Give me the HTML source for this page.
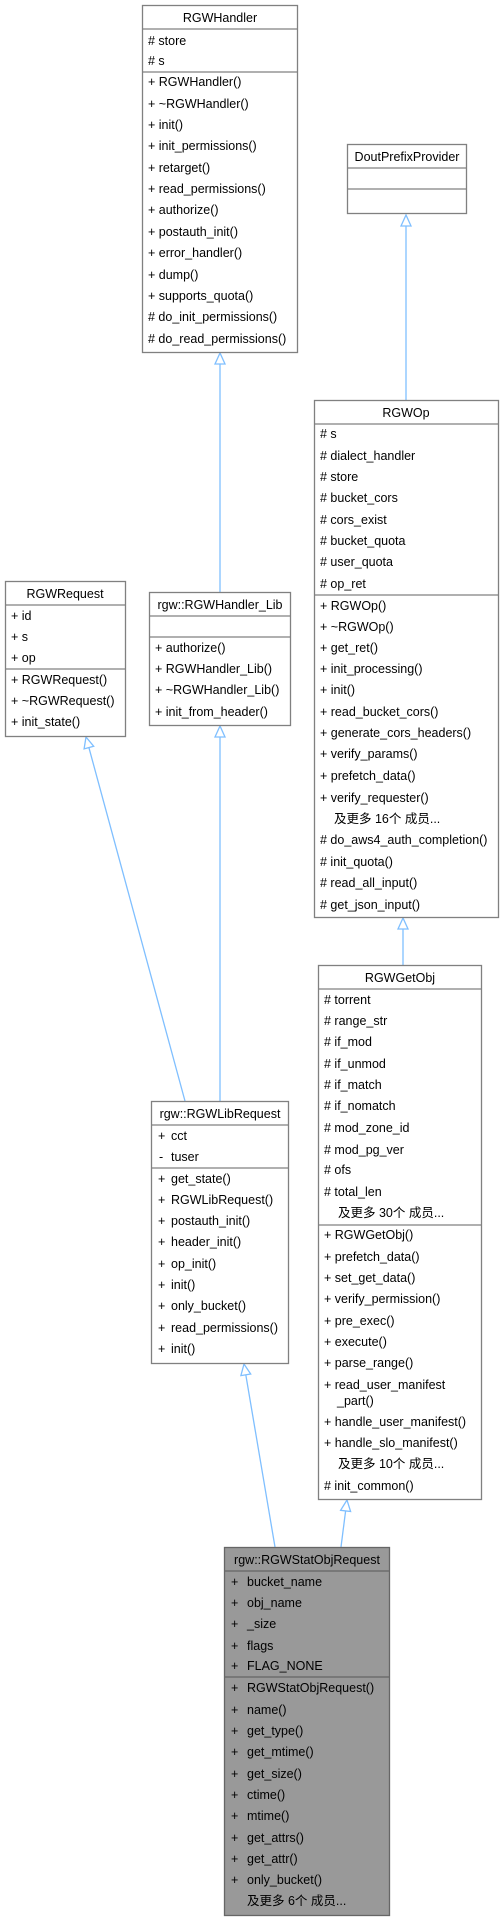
<!DOCTYPE html>
<html><head><meta charset="utf-8"><style>
html,body{margin:0;padding:0;background:#fff;}
svg{display:block;}
text{font-family:"Liberation Sans","Noto Sans CJK SC",sans-serif;font-size:12.5px;fill:#000;}
.b{fill:#fff;stroke:#808080;stroke-width:1.3;}
.g{fill:#999;stroke:#666;stroke-width:1.3;}
.s{stroke:#808080;stroke-width:1.3;}
.a{stroke:#7fbfff;stroke-width:1.3;fill:none;}
.h{stroke:#7fbfff;stroke-width:1.3;fill:#fff;}
</style></head><body>
<svg width="504" height="1920" viewBox="0 0 504 1920" xmlns="http://www.w3.org/2000/svg">
<!-- connectors -->
<line class="a" x1="220" y1="363" x2="220" y2="592"/>
<polygon class="h" points="220,353 215,364 225,364"/>
<line class="a" x1="406" y1="225" x2="406" y2="400"/>
<polygon class="h" points="406,215 401,226 411,226"/>
<line class="a" x1="220" y1="736" x2="220" y2="1101"/>
<polygon class="h" points="220,726 215,737 225,737"/>
<line class="a" x1="88.9" y1="747.6" x2="185" y2="1101"/>
<polygon class="h" points="86,737 84.1,748.9 93.7,746.3"/>
<line class="a" x1="403" y1="928" x2="403" y2="965"/>
<polygon class="h" points="403,918 398,929 408,929"/>
<line class="a" x1="245.8" y1="1374.8" x2="275" y2="1547"/>
<polygon class="h" points="244,1364 240.9,1375.6 250.7,1374"/>
<line class="a" x1="345.6" y1="1510.9" x2="341" y2="1547"/>
<polygon class="h" points="347,1500 340.6,1510.3 350.6,1511.5"/>

<!-- RGWHandler -->
<rect class="b" x="142.5" y="5.5" width="155" height="347"/>
<line class="s" x1="142.5" y1="29" x2="297.5" y2="29"/>
<line class="s" x1="142.5" y1="72" x2="297.5" y2="72"/>
<text x="220" y="22" text-anchor="middle">RGWHandler</text>
<g>
<text x="148" y="45"># store</text>
<text x="148" y="65"># s</text>
<text x="148" y="86">+ RGWHandler()</text>
<text x="148" y="108">+ ~RGWHandler()</text>
<text x="148" y="129">+ init()</text>
<text x="148" y="150">+ init_permissions()</text>
<text x="148" y="172">+ retarget()</text>
<text x="148" y="193">+ read_permissions()</text>
<text x="148" y="214">+ authorize()</text>
<text x="148" y="236">+ postauth_init()</text>
<text x="148" y="257">+ error_handler()</text>
<text x="148" y="279">+ dump()</text>
<text x="148" y="300">+ supports_quota()</text>
<text x="148" y="321"># do_init_permissions()</text>
<text x="148" y="343"># do_read_permissions()</text>
</g>

<!-- DoutPrefixProvider -->
<rect class="b" x="347.5" y="144.5" width="119" height="69"/>
<line class="s" x1="347.5" y1="168" x2="466.5" y2="168"/>
<line class="s" x1="347.5" y1="189" x2="466.5" y2="189"/>
<text x="407" y="161" text-anchor="middle">DoutPrefixProvider</text>

<!-- RGWOp -->
<rect class="b" x="314.5" y="400.5" width="184" height="517"/>
<line class="s" x1="314.5" y1="424" x2="498.5" y2="424"/>
<line class="s" x1="314.5" y1="595" x2="498.5" y2="595"/>
<text x="406" y="417" text-anchor="middle">RGWOp</text>
<g>
<text x="320" y="438"># s</text>
<text x="320" y="460"># dialect_handler</text>
<text x="320" y="481"># store</text>
<text x="320" y="502"># bucket_cors</text>
<text x="320" y="524"># cors_exist</text>
<text x="320" y="545"># bucket_quota</text>
<text x="320" y="566"># user_quota</text>
<text x="320" y="588"># op_ret</text>
<text x="320" y="610">+ RGWOp()</text>
<text x="320" y="631">+ ~RGWOp()</text>
<text x="320" y="652">+ get_ret()</text>
<text x="320" y="673">+ init_processing()</text>
<text x="320" y="694">+ init()</text>
<text x="320" y="716">+ read_bucket_cors()</text>
<text x="320" y="737">+ generate_cors_headers()</text>
<text x="320" y="758">+ verify_params()</text>
<text x="320" y="780">+ prefetch_data()</text>
<text x="320" y="802">+ verify_requester()</text>
<text x="334" y="823">及更多 16个 成员...</text>
<text x="320" y="844"># do_aws4_auth_completion()</text>
<text x="320" y="866"># init_quota()</text>
<text x="320" y="887"># read_all_input()</text>
<text x="320" y="909"># get_json_input()</text>
</g>

<!-- RGWRequest -->
<rect class="b" x="5.5" y="581.5" width="120" height="155"/>
<line class="s" x1="5.5" y1="605" x2="125.5" y2="605"/>
<line class="s" x1="5.5" y1="669" x2="125.5" y2="669"/>
<text x="65" y="598" text-anchor="middle">RGWRequest</text>
<text x="11" y="620">+ id</text>
<text x="11" y="641">+ s</text>
<text x="11" y="662">+ op</text>
<text x="11" y="684">+ RGWRequest()</text>
<text x="11" y="705">+ ~RGWRequest()</text>
<text x="11" y="726">+ init_state()</text>

<!-- RGWHandler_Lib -->
<rect class="b" x="149.5" y="592.5" width="141" height="133"/>
<line class="s" x1="149.5" y1="616" x2="290.5" y2="616"/>
<line class="s" x1="149.5" y1="637" x2="290.5" y2="637"/>
<text x="220" y="609" text-anchor="middle">rgw::RGWHandler_Lib</text>
<text x="155" y="652">+ authorize()</text>
<text x="155" y="673">+ RGWHandler_Lib()</text>
<text x="155" y="694">+ ~RGWHandler_Lib()</text>
<text x="155" y="716">+ init_from_header()</text>

<!-- RGWGetObj -->
<rect class="b" x="318.5" y="965.5" width="163" height="534"/>
<line class="s" x1="318.5" y1="989" x2="481.5" y2="989"/>
<line class="s" x1="318.5" y1="1225" x2="481.5" y2="1225"/>
<text x="400" y="982" text-anchor="middle">RGWGetObj</text>
<g>
<text x="324" y="1004"># torrent</text>
<text x="324" y="1025"># range_str</text>
<text x="324" y="1046"># if_mod</text>
<text x="324" y="1068"># if_unmod</text>
<text x="324" y="1089"># if_match</text>
<text x="324" y="1110"># if_nomatch</text>
<text x="324" y="1132"># mod_zone_id</text>
<text x="324" y="1154"># mod_pg_ver</text>
<text x="324" y="1174"># ofs</text>
<text x="324" y="1196"># total_len</text>
<text x="338" y="1217">及更多 30个 成员...</text>
<text x="324" y="1239">+ RGWGetObj()</text>
<text x="324" y="1261">+ prefetch_data()</text>
<text x="324" y="1282">+ set_get_data()</text>
<text x="324" y="1303">+ verify_permission()</text>
<text x="324" y="1325">+ pre_exec()</text>
<text x="324" y="1346">+ execute()</text>
<text x="324" y="1367">+ parse_range()</text>
<text x="324" y="1389">+ read_user_manifest</text>
<text x="337" y="1405">_part()</text>
<text x="324" y="1426">+ handle_user_manifest()</text>
<text x="324" y="1447">+ handle_slo_manifest()</text>
<text x="338" y="1468">及更多 10个 成员...</text>
<text x="324" y="1490"># init_common()</text>
</g>

<!-- RGWLibRequest -->
<rect class="b" x="151.5" y="1101.5" width="137" height="262"/>
<line class="s" x1="151.5" y1="1125" x2="288.5" y2="1125"/>
<line class="s" x1="151.5" y1="1168" x2="288.5" y2="1168"/>
<text x="220" y="1118" text-anchor="middle">rgw::RGWLibRequest</text>
<g>
<text x="158" y="1140">+</text><text x="171" y="1140">cct</text>
<text x="159" y="1161">-</text><text x="171" y="1161">tuser</text>
<text x="158" y="1183">+</text><text x="171" y="1183">get_state()</text>
<text x="158" y="1204">+</text><text x="171" y="1204">RGWLibRequest()</text>
<text x="158" y="1225">+</text><text x="171" y="1225">postauth_init()</text>
<text x="158" y="1246">+</text><text x="171" y="1246">header_init()</text>
<text x="158" y="1268">+</text><text x="171" y="1268">op_init()</text>
<text x="158" y="1289">+</text><text x="171" y="1289">init()</text>
<text x="158" y="1310">+</text><text x="171" y="1310">only_bucket()</text>
<text x="158" y="1332">+</text><text x="171" y="1332">read_permissions()</text>
<text x="158" y="1353">+</text><text x="171" y="1353">init()</text>
</g>

<!-- RGWStatObjRequest -->
<rect class="g" x="224.5" y="1547.5" width="165" height="368"/>
<line x1="224.5" y1="1571" x2="389.5" y2="1571" stroke="#666" stroke-width="1.3"/>
<line x1="224.5" y1="1677" x2="389.5" y2="1677" stroke="#666" stroke-width="1.3"/>
<text x="307" y="1564" text-anchor="middle">rgw::RGWStatObjRequest</text>
<g>
<text x="231" y="1586">+</text><text x="247" y="1586">bucket_name</text>
<text x="231" y="1607">+</text><text x="247" y="1607">obj_name</text>
<text x="231" y="1628">+</text><text x="247" y="1628">_size</text>
<text x="231" y="1650">+</text><text x="247" y="1650">flags</text>
<text x="231" y="1670">+</text><text x="247" y="1670">FLAG_NONE</text>
<text x="231" y="1692">+</text><text x="247" y="1692">RGWStatObjRequest()</text>
<text x="231" y="1714">+</text><text x="247" y="1714">name()</text>
<text x="231" y="1735">+</text><text x="247" y="1735">get_type()</text>
<text x="231" y="1756">+</text><text x="247" y="1756">get_mtime()</text>
<text x="231" y="1778">+</text><text x="247" y="1778">get_size()</text>
<text x="231" y="1799">+</text><text x="247" y="1799">ctime()</text>
<text x="231" y="1820">+</text><text x="247" y="1820">mtime()</text>
<text x="231" y="1842">+</text><text x="247" y="1842">get_attrs()</text>
<text x="231" y="1863">+</text><text x="247" y="1863">get_attr()</text>
<text x="231" y="1884">+</text><text x="247" y="1884">only_bucket()</text>
<text x="247" y="1905">及更多 6个 成员...</text>
</g>
</svg>
</body></html>
